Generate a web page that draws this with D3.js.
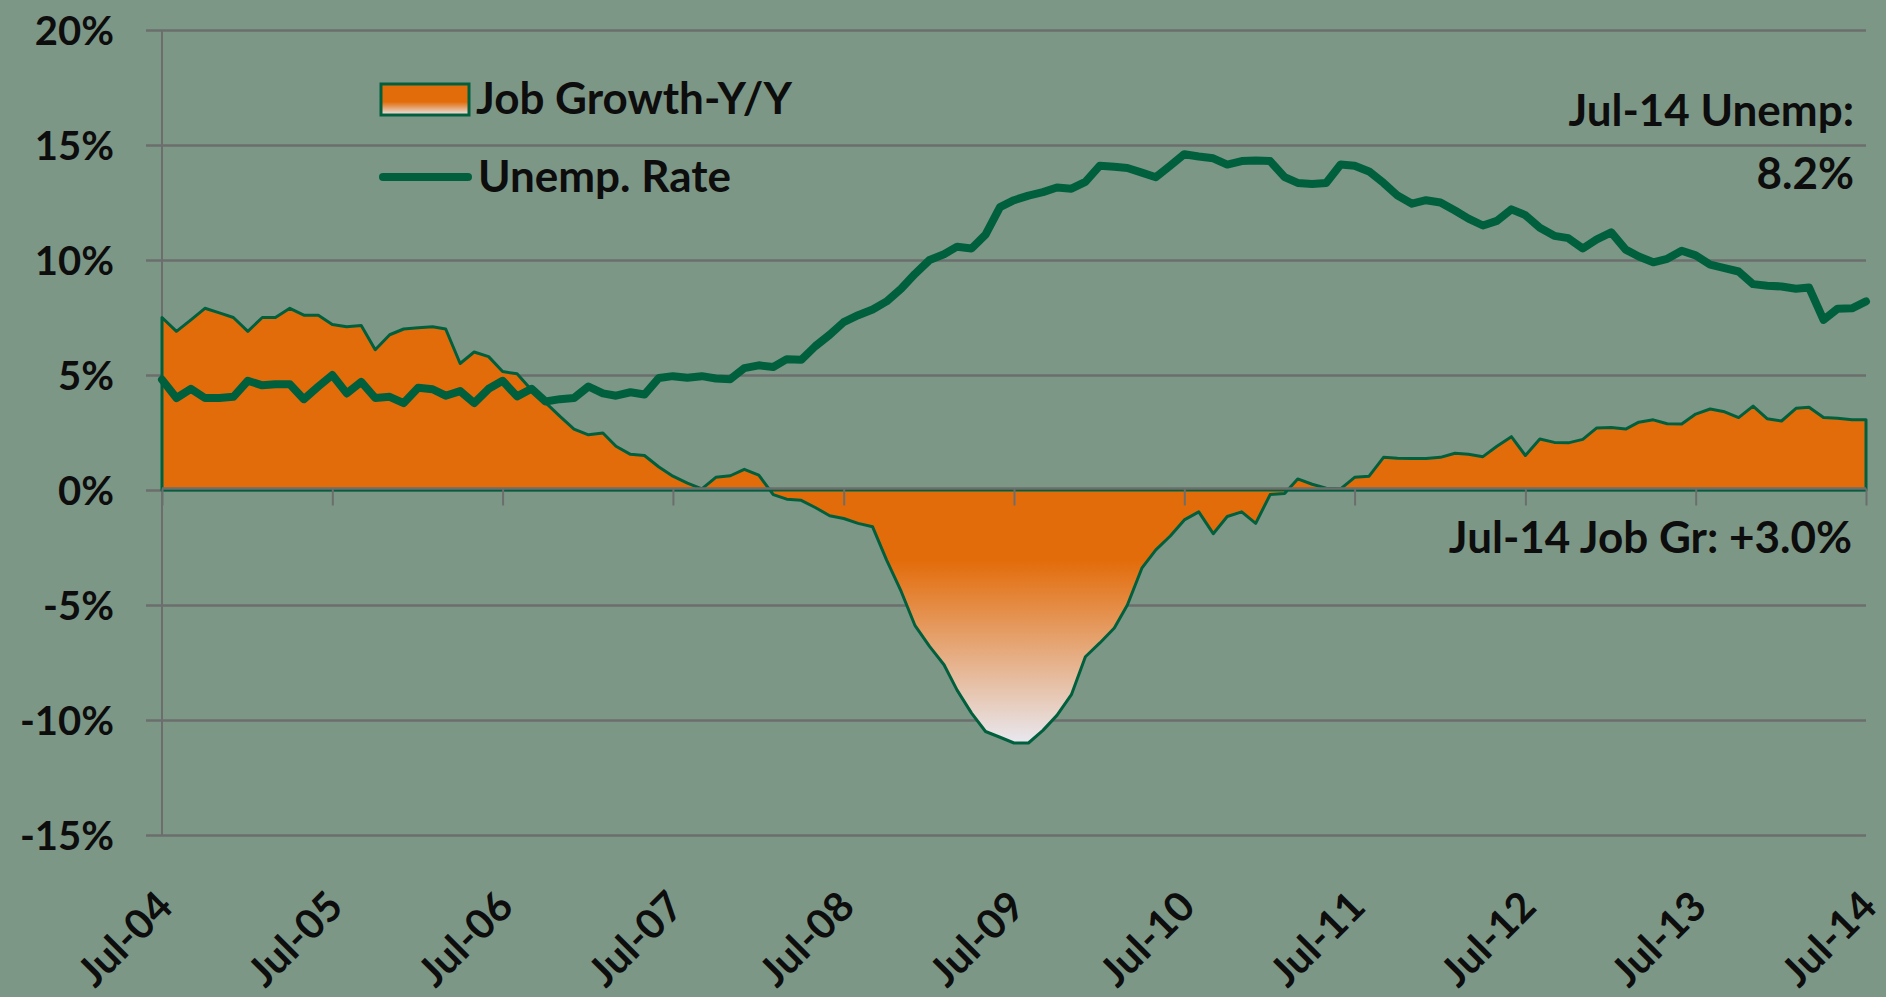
<!DOCTYPE html>
<html>
<head>
<meta charset="utf-8">
<script src="https://cdn.jsdelivr.net/npm/d3@7"></script>
<style>
    html, body {margin: 0; padding: 0; background: #7d9787;}
    svg {display: block;}
    text {font-family: Lato, "Open Sans", sans-serif; font-weight: 700; fill: #0d0d0d;}
</style>
</head>
<body>
<svg id="chart"></svg>
<script>
// config
let widthSvg = 1886;
let heightSvg = 997;
let margin = ({top: 30, right: 20, bottom: 162, left: 162});

let bgColor = "#7d9787",
    gridColor = "#6b6e6c",
    orange = "#e36c0a",
    green = "#00603e";

// data: monthly, Jul-04 .. Jul-14 (%)
let jobGrowth = [
    7.5, 6.9, 7.4, 7.9, 7.7, 7.5, 6.9, 7.5, 7.5, 7.9, 7.6, 7.6,
    7.2, 7.1, 7.15, 6.1, 6.75, 7.0, 7.05, 7.1, 7.0, 5.5, 6.0, 5.8,
    5.15, 5.05, 4.35, 3.8, 3.2, 2.65, 2.4, 2.48, 1.9, 1.55, 1.5, 1.0,
    0.6, 0.3, 0.05, 0.55, 0.62, 0.9, 0.65, -0.2, -0.4, -0.45, -0.76, -1.12,
    -1.24, -1.45, -1.6, -3.05, -4.4, -5.9, -6.8, -7.6, -8.7, -9.7, -10.5, -10.75,
    -11.0, -11.0, -10.45, -9.8, -8.9, -7.25, -6.65, -6.0, -5.0, -3.4, -2.6, -2.0,
    -1.3, -0.95, -1.9, -1.15, -0.95, -1.45, -0.2, -0.15, 0.48, 0.25, 0.08, 0.05,
    0.55, 0.6, 1.42, 1.38, 1.37, 1.37, 1.42, 1.6, 1.55, 1.45, 1.9, 2.32,
    1.5, 2.22, 2.07, 2.05, 2.2, 2.7, 2.72, 2.65, 2.95, 3.05, 2.88, 2.87,
    3.3, 3.52, 3.4, 3.15, 3.65, 3.1, 3.0, 3.55, 3.6, 3.15, 3.12, 3.05,
    3.05
];
let unempRate = [
    4.8, 4.0, 4.4, 4.0, 4.0, 4.05, 4.75, 4.55, 4.6, 4.6, 3.95, 4.5,
    5.0, 4.2, 4.7, 4.0, 4.05, 3.78, 4.45, 4.38, 4.1, 4.3, 3.78, 4.4,
    4.75, 4.07, 4.4, 3.85, 3.95, 4.0, 4.5, 4.2, 4.1, 4.25, 4.15, 4.87,
    4.95, 4.88, 4.95, 4.85, 4.82, 5.3, 5.42, 5.35, 5.69, 5.66, 6.25, 6.75,
    7.3, 7.6, 7.85, 8.2, 8.75, 9.4, 10.0, 10.25, 10.58, 10.5, 11.1, 12.3,
    12.6, 12.8, 12.95, 13.15, 13.1, 13.4, 14.1, 14.05, 14.0, 13.8, 13.6, 14.1,
    14.6, 14.5, 14.42, 14.15, 14.3, 14.33, 14.3, 13.6, 13.35, 13.3, 13.35, 14.15,
    14.1, 13.85, 13.35, 12.8, 12.45, 12.6, 12.5, 12.15, 11.8, 11.5, 11.7, 12.2,
    11.95, 11.4, 11.05, 10.95, 10.5, 10.9, 11.2, 10.45, 10.15, 9.9, 10.05, 10.4,
    10.2, 9.8, 9.65, 9.5, 8.95, 8.88, 8.85, 8.75, 8.8, 7.4, 7.88, 7.9,
    8.2
];
let yTicks = [20, 15, 10, 5, 0, -5, -10, -15];
let xTickLabels = ["Jul-04", "Jul-05", "Jul-06", "Jul-07", "Jul-08", "Jul-09",
    "Jul-10", "Jul-11", "Jul-12", "Jul-13", "Jul-14"];
let legendLabels = ["Job Growth-Y/Y", "Unemp. Rate"];
let notes = {unemp: ["Jul-14 Unemp:", "8.2%"], job: "Jul-14 Job Gr: +3.0%"};

let startMonth = new Date(2004, 6, 1);
let months = d3.timeMonth.range(startMonth, d3.timeMonth.offset(startMonth, jobGrowth.length));
let parseTick = d3.timeParse("%b-%y");

const mainsvg = d3.select("#chart")
    .attr("width", widthSvg)
    .attr("height", heightSvg);

mainsvg.append("rect")
    .attr("width", widthSvg).attr("height", heightSvg)
    .attr("fill", bgColor);

let x = d3.scaleTime()
    .domain([months[0], months[months.length - 1]])
    .range([margin.left, widthSvg - margin.right]);
let y = d3.scaleLinear()
    .domain([-15, 20])
    .range([heightSvg - margin.bottom, margin.top]);

// gradient used by the area and its legend swatch
let defs = mainsvg.append("defs");
let grad = defs.append("linearGradient")
    .attr("id", "jobFill")
    .attr("x1", 0).attr("y1", 0).attr("x2", 0).attr("y2", 1);
grad.append("stop").attr("offset", 0).attr("stop-color", orange);
grad.append("stop").attr("offset", 0.58).attr("stop-color", orange);
grad.append("stop").attr("offset", 1).attr("stop-color", "#e8e8f0");

// y gridlines + labels
let yAxis = d3.axisLeft(y)
    .tickValues(yTicks)
    .tickSize(-(widthSvg - margin.left - margin.right))
    .tickPadding(0)
    .tickFormat(d => d + "%");
let gy = mainsvg.append("g")
    .attr("transform", `translate(${margin.left},0)`)
    .call(yAxis);
gy.select(".domain").remove();
gy.selectAll(".tick line")
    .attr("x1", -16)
    .attr("stroke", gridColor)
    .attr("stroke-width", 2.5);
gy.selectAll(".tick text")
    .attr("x", -48)
    .attr("dy", "0.36em")
    .style("font-size", "40px")
    .style("font-family", "Lato, sans-serif")
    .style("font-weight", 700)
    .attr("fill", "#0d0d0d");

// vertical axis line
mainsvg.append("line")
    .attr("x1", margin.left).attr("x2", margin.left)
    .attr("y1", y(20)).attr("y2", y(-15))
    .attr("stroke", gridColor).attr("stroke-width", 2);

// job growth area
let area = d3.area()
    .x((d, i) => x(months[i]))
    .y0(y(0))
    .y1(d => y(d));
mainsvg.append("path")
    .datum(jobGrowth)
    .attr("d", area)
    .attr("fill", "url(#jobFill)")
    .attr("stroke", green)
    .attr("stroke-width", 3)
    .attr("stroke-linejoin", "round");

// x axis at 0%
let xAxis = d3.axisBottom(x)
    .tickValues(xTickLabels.map(parseTick))
    .tickSize(17)
    .tickFormat("");
let gx = mainsvg.append("g")
    .attr("transform", `translate(0,${y(0) - 1.5})`)
    .call(xAxis);
gx.select(".domain").attr("stroke", gridColor).attr("stroke-width", 2.5)
    .attr("d", `M${x.range()[0]},0H${x.range()[1]}`);
gx.selectAll(".tick line").attr("stroke", gridColor).attr("stroke-width", 2);

// rotated year labels
mainsvg.append("g")
    .selectAll("text")
    .data(xTickLabels)
    .join("text")
    .attr("transform", d => `translate(${x(parseTick(d)) + 13},${909}) rotate(-45)`)
    .attr("text-anchor", "end")
    .style("font-size", "41px")
    .text(d => d);

// unemployment line
let line = d3.line()
    .x((d, i) => x(months[i]))
    .y(d => y(d));
mainsvg.append("path")
    .datum(unempRate)
    .attr("d", line)
    .attr("fill", "none")
    .attr("stroke", green)
    .attr("stroke-width", 8)
    .attr("stroke-linejoin", "round")
    .attr("stroke-linecap", "round");

// legend
let legend = mainsvg.append("g");
legend.append("rect")
    .attr("x", 381).attr("y", 84)
    .attr("width", 88).attr("height", 31)
    .attr("fill", "url(#jobFill)")
    .attr("stroke", green).attr("stroke-width", 3);
legend.append("text")
    .attr("x", 476).attr("y", 114)
    .style("font-size", "44px")
    .text(legendLabels[0]);
legend.append("line")
    .attr("x1", 383).attr("x2", 468)
    .attr("y1", 177).attr("y2", 177)
    .attr("stroke", green).attr("stroke-width", 8)
    .attr("stroke-linecap", "round");
legend.append("text")
    .attr("x", 478).attr("y", 192)
    .style("font-size", "44px")
    .text(legendLabels[1]);

// end-of-series notes
let noteX = 1854;
mainsvg.append("text")
    .attr("x", noteX).attr("y", 126)
    .attr("text-anchor", "end")
    .style("font-size", "44px")
    .text(notes.unemp[0]);
mainsvg.append("text")
    .attr("x", noteX).attr("y", 189)
    .attr("text-anchor", "end")
    .style("font-size", "44px")
    .text(notes.unemp[1]);
mainsvg.append("text")
    .attr("x", noteX - 2).attr("y", 553)
    .attr("text-anchor", "end")
    .style("font-size", "44px")
    .text(notes.job);
</script>
</body>
</html>
